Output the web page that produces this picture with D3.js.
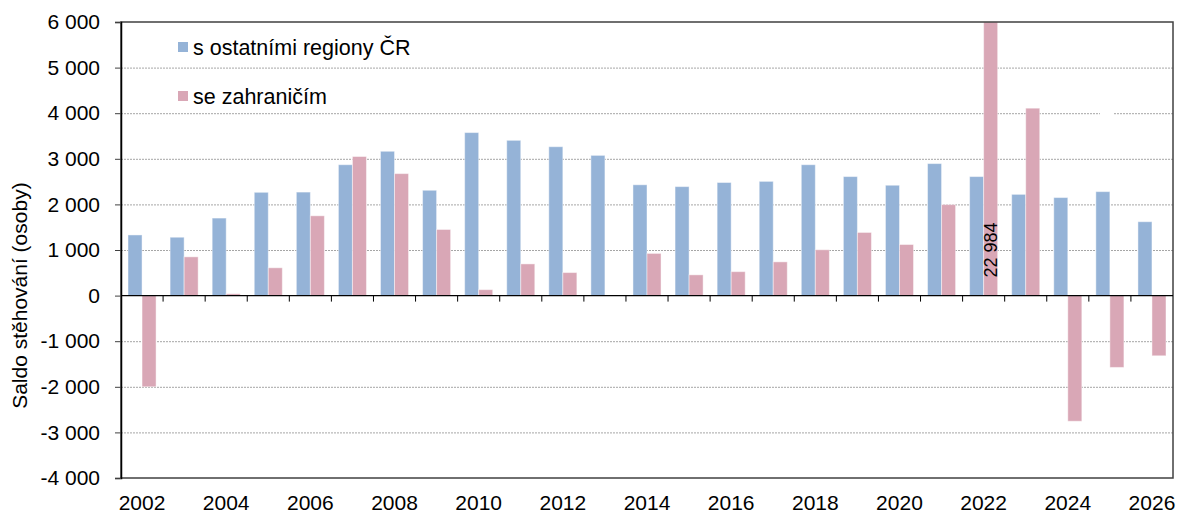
<!DOCTYPE html>
<html>
<head>
<meta charset="utf-8">
<script src="https://cdn.jsdelivr.net/npm/d3@7"></script>
<style>
  body { margin: 0; background: #fff; }
  text { font-family: "Liberation Sans", Arial, sans-serif; fill: #000; }
</style>
</head>
<body>
<script>
// saldo stehovani by year
const years = d3.range(2002, 2027).map(String);
const seriesNames = ["s ostatními regiony ČR", "se zahraničím"];
const regiony = [1330, 1280, 1700, 2265, 2270, 2870, 3165, 2310, 3575, 3405, 3265, 3075,
  2430, 2390, 2480, 2505, 2870, 2610, 2420, 2895, 2610, 2220, 2150, 2280, 1620];
const zahranici = [-2000, 850, 40, 610, 1750, 3050, 2675, 1450, 130, 695, 505, 0,
  925, 455, 525, 740, 1005, 1385, 1120, 1995, 22984, 4110, -2755, -1575, -1320];
const yTicks = [-4000, -3000, -2000, -1000, 0, 1000, 2000, 3000, 4000, 5000, 6000];
const colors = ["#95b3d7", "#d9a7b6"];

const W = 1177, H = 513;
const margin = {left: 121, right: 4, top: 22, bottom: 35};

const svg = d3.select("body").append("svg")
    .attr("width", W)
    .attr("height", H);

const x = d3.scaleBand()
    .domain(years)
    .range([margin.left, W - margin.right]);
const bw = x.bandwidth();
const x1 = d3.scaleBand()
    .domain([0, 1])
    .range([bw / 6, bw * 5 / 6]);
const y = d3.scaleLinear()
    .domain([-4000, 6000])
    .range([H - margin.bottom, margin.top])
    .clamp(true);

// czech style: space as thousands separator, plain hyphen for minus
const fmt = v => d3.format(",")(v).replace(/,/g, " ").replace("−", "-");

// gridlines
svg.append("g")
  .selectAll("line")
  .data(yTicks.filter(v => v !== 0 && v !== -4000 && v !== 6000))
  .join("line")
    .attr("x1", margin.left).attr("x2", W - margin.right)
    .attr("y1", d => y(d) + 0.5).attr("y2", d => y(d) + 0.5)
    .attr("stroke", "#a6a6a6")
    .attr("stroke-dasharray", "2,1");

// small gap in the 4000 line
svg.append("rect")
    .attr("x", 1100).attr("y", y(4000) - 2)
    .attr("width", 14).attr("height", 5)
    .attr("fill", "#fff");

// bars
const data = years.map((yr, i) => ({yr, vals: [regiony[i], zahranici[i]]}));
svg.append("g")
  .selectAll("g")
  .data(data)
  .join("g")
    .attr("transform", d => `translate(${x(d.yr)},0)`)
  .selectAll("rect")
  .data(d => d.vals.map((v, k) => ({k, v})))
  .join("rect")
    .attr("x", d => x1(d.k))
    .attr("width", x1.bandwidth())
    .attr("y", d => y(Math.max(0, d.v)))
    .attr("height", d => Math.abs(y(d.v) - y(0)))
    .attr("fill", d => colors[d.k])
    .attr("stroke", "#fff")
    .attr("stroke-opacity", 0.45)
    .attr("stroke-width", 1);

// label for the clipped bar
const big = data.find(d => d.yr === "2022");
svg.append("text")
    .attr("transform", `translate(${x("2022") + x1(1) + x1.bandwidth() / 2 + 6},${y(1000)}) rotate(-90)`)
    .attr("text-anchor", "middle")
    .attr("font-size", 18)
    .text(fmt(big.vals[1]));

// frame
svg.append("rect")
    .attr("x", margin.left).attr("y", margin.top)
    .attr("width", W - margin.right - margin.left)
    .attr("height", H - margin.bottom - margin.top)
    .attr("fill", "none")
    .attr("stroke", "#404040")
    .attr("stroke-width", 1.5);

// zero line with category ticks
svg.append("line")
    .attr("x1", margin.left).attr("x2", W - margin.right)
    .attr("y1", y(0)).attr("y2", y(0))
    .attr("stroke", "#000").attr("stroke-width", 1.2);
svg.append("g")
  .selectAll("line")
  .data(years.slice(1))
  .join("line")
    .attr("x1", d => x(d)).attr("x2", d => x(d))
    .attr("y1", y(0)).attr("y2", y(0) + 6)
    .attr("stroke", "#000");

// y axis
const yAxis = svg.append("g")
    .attr("transform", `translate(${margin.left},0)`)
    .call(d3.axisLeft(y).tickValues(yTicks).tickSize(6).tickPadding(15).tickFormat(fmt));
yAxis.select(".domain").attr("stroke", "#000").attr("stroke-width", 1.5);
yAxis.selectAll(".tick line").attr("stroke", "#404040");
yAxis.selectAll("text")
    .attr("font-size", 21)
    .attr("font-family", "'Liberation Sans', Arial, sans-serif")
    .attr("fill", "#000");

// x labels (every other year)
svg.append("g")
  .selectAll("text")
  .data(years.filter((d, i) => i % 2 === 0))
  .join("text")
    .attr("x", d => x(d) + bw / 2)
    .attr("y", 510)
    .attr("text-anchor", "middle")
    .attr("font-size", 21)
    .text(d => d);

// y title
svg.append("text")
    .attr("transform", `translate(27,${y(0)}) rotate(-90)`)
    .attr("text-anchor", "middle")
    .attr("font-size", 21)
    .text("Saldo stěhování (osoby)");

// legend
const legend = svg.append("g")
  .selectAll("g")
  .data(seriesNames)
  .join("g")
    .attr("transform", (d, i) => `translate(178,${47 + i * 49})`);
legend.append("rect")
    .attr("x", 0).attr("y", -5)
    .attr("width", 10).attr("height", 10)
    .attr("fill", (d, i) => colors[i]);
legend.append("text")
    .attr("x", 15).attr("y", 8)
    .attr("font-size", 21.5)
    .text(d => d);
</script>
</body>
</html>
